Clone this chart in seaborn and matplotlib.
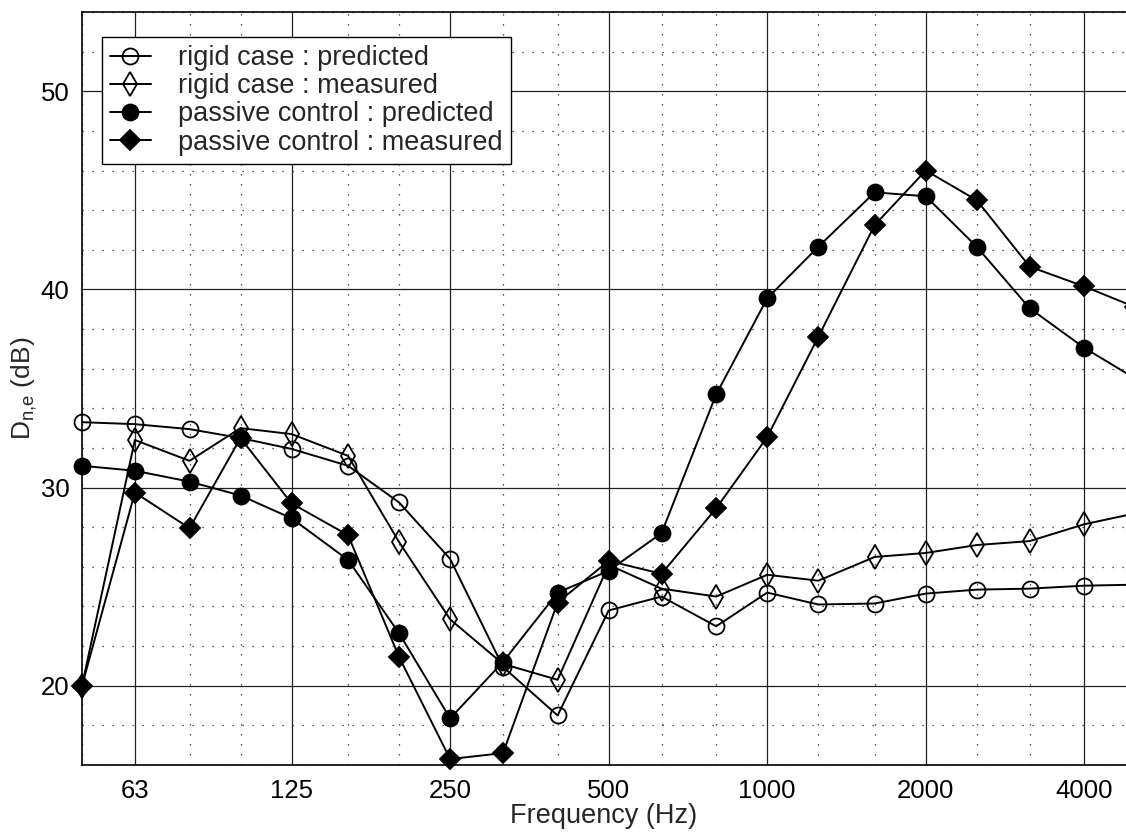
import matplotlib
matplotlib.use('Agg')
import matplotlib.pyplot as plt
import matplotlib.ticker as mticker
import seaborn as sns

# ============================ DATA ============================
freqs = [50, 63, 80, 100, 125, 160, 200, 250, 315, 400, 500, 630, 800,
         1000, 1250, 1600, 2000, 2500, 3150, 4000, 5000]

rigid_pred = [33.3, 33.2, 32.95, 32.5, 31.95, 31.1, 29.25, 26.4, 20.95, 18.5,
              23.8, 24.5, 23.0, 24.7, 24.1, 24.15, 24.65, 24.85, 24.9, 25.05, 25.1]
rigid_meas = [20.0, 32.4, 31.35, 33.0, 32.7, 31.6, 27.25, 23.35, 21.1, 20.3,
              26.1, 24.9, 24.5, 25.6, 25.3, 26.5, 26.7, 27.1, 27.3, 28.15, 28.7]
passive_pred = [31.1, 30.85, 30.3, 29.6, 28.45, 26.35, 22.65, 18.35, 21.2, 24.7,
                25.8, 27.7, 34.7, 39.55, 42.15, 44.9, 44.7, 42.15, 39.05, 37.05, 35.5]
passive_meas = [20.0, 29.75, 27.95, 32.5, 29.2, 27.6, 21.45, 16.3, 16.6, 24.2,
                26.3, 25.65, 28.95, 32.55, 37.6, 43.25, 46.0, 44.5, 41.15, 40.15, 39.1]

major_ticks = [63, 125, 250, 500, 1000, 2000, 4000]
major_labels = ['63', '125', '250', '500', '1000', '2000', '4000']
y_ticks = [20, 30, 40, 50]
# ===============================================================

sns.set_style('white')
plt.rcParams['font.family'] = ['Liberation Sans', 'DejaVu Sans']

fig = plt.figure(figsize=(11.26, 8.36), dpi=100)
ax = fig.add_axes([82 / 1126, 1 - 765 / 836, 1 - 82 / 1126, (765 - 12) / 836])

series = [
    (rigid_pred, 'o', 'none', 11.5, 'rigid case : predicted'),
    (rigid_meas, 'd', 'none', 12.5, 'rigid case : measured'),
    (passive_pred, 'o', 'k', 11.5, 'passive control : predicted'),
    (passive_meas, 'D', 'k', 10.5, 'passive control : measured'),
]
for vals, mk, face, ms, lab in series:
    sns.lineplot(x=freqs, y=vals, ax=ax, color='k', lw=1.4, marker=mk,
                 markersize=ms, markerfacecolor=face, markeredgecolor='k',
                 markeredgewidth=1.3, label=lab, sort=False, estimator=None,
                 clip_on=False)

ax.set_xscale('log')
ax.set_xlim(50, 4800)
ax.set_ylim(16, 54)

ax.xaxis.set_major_locator(mticker.FixedLocator(major_ticks))
ax.xaxis.set_major_formatter(mticker.FixedFormatter(major_labels))
minor_x = [f for f in freqs if f not in major_ticks]
ax.xaxis.set_minor_locator(mticker.FixedLocator(minor_x))
ax.xaxis.set_minor_formatter(mticker.NullFormatter())
ax.yaxis.set_major_locator(mticker.FixedLocator(y_ticks))
ax.yaxis.set_minor_locator(mticker.MultipleLocator(2))

ax.grid(which='major', color='#222222', lw=0.9, ls='-')
ax.grid(which='minor', color='#222222', lw=0.9, ls=(0, (1, 7)))
ax.set_axisbelow(True)

ax.tick_params(which='both', direction='in', labelsize=18.5, colors='k')
ax.tick_params(which='major', length=7, width=1)
ax.tick_params(which='minor', length=4, width=0.8)
ax.tick_params(axis='x', pad=10)
ax.tick_params(axis='y', pad=9)

for s in ['left', 'top', 'bottom']:
    ax.spines[s].set_color('k')
    ax.spines[s].set_linewidth(1.2)
ax.spines['right'].set_visible(False)

ax.set_xlabel('Frequency (Hz)', fontsize=19.5, labelpad=0)
ax.set_ylabel('$\\mathregular{D_{n{,}e}}$ (dB)', fontsize=19, labelpad=1)

leg = ax.legend(loc='upper left', bbox_to_anchor=(102 / 1126, 1 - 37 / 836),
                bbox_transform=fig.transFigure, borderaxespad=0,
                fontsize=19.5, frameon=True, fancybox=False, framealpha=1,
                edgecolor='k', handlelength=1.5, labelspacing=0.08,
                handletextpad=1.0, borderpad=0.3)
leg.get_frame().set_linewidth(1.0)

plt.savefig('out.png', dpi=100)
